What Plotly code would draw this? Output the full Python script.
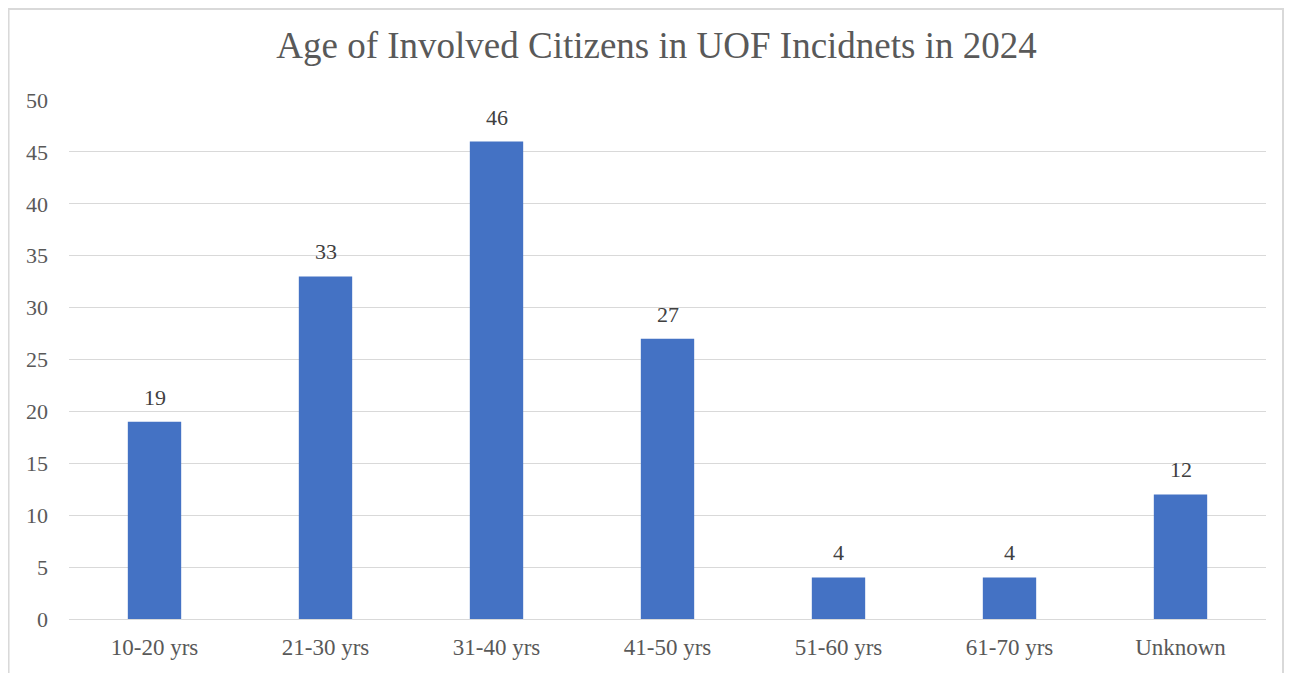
import plotly.graph_objects as go

# data
age_groups = ['10-20 yrs', '21-30 yrs', '31-40 yrs', '41-50 yrs',
              '51-60 yrs', '61-70 yrs', 'Unknown']
counts = [19, 33, 46, 27, 4, 4, 12]
y_ticks = [0, 5, 10, 15, 20, 25, 30, 35, 40, 45, 50]

blue = '#4472C4'
grey_txt = '#595959'
grid = '#D9D9D9'
serif = 'Liberation Serif, Times New Roman, serif'

fig = go.Figure(go.Bar(
    x=age_groups, y=counts,
    marker_color=blue, marker_line_width=0))

# value labels above the bars
for cat, val in zip(age_groups, counts):
    fig.add_annotation(x=cat, y=val, text=str(val), showarrow=False,
                       yanchor='bottom', yshift=10,
                       font=dict(family=serif, size=22, color='#404040'))

fig.update_layout(
    width=1297, height=673,
    margin=dict(l=61, r=39, t=92, b=62),
    paper_bgcolor='white', plot_bgcolor='white',
    bargap=0.688,
    showlegend=False,
    title=dict(text='Age of Involved Citizens in UOF Incidnets in 2024',
               x=0.5, xanchor='center', y=0.945, yanchor='middle',
               font=dict(family=serif, size=37, color=grey_txt)),
    font=dict(family=serif, size=22, color=grey_txt))

fig.update_yaxes(range=[0, 50], tickvals=y_ticks, showgrid=True,
                 gridcolor=grid, gridwidth=1, zeroline=True,
                 zerolinecolor=grid, zerolinewidth=1,
                 showline=False, ticks='', ticklabelstandoff=20)
fig.update_xaxes(showgrid=False, showline=False, ticks='',
                 ticklabelstandoff=12, tickfont=dict(size=23))

# light border round the chart area
fig.add_shape(type='rect', xref='paper', yref='paper',
              x0=-0.0505, x1=1.0142, y0=-0.13, y1=1.1755,
              line=dict(color='#D9D9D9', width=2), layer='below')

fig.write_html('out.html')
